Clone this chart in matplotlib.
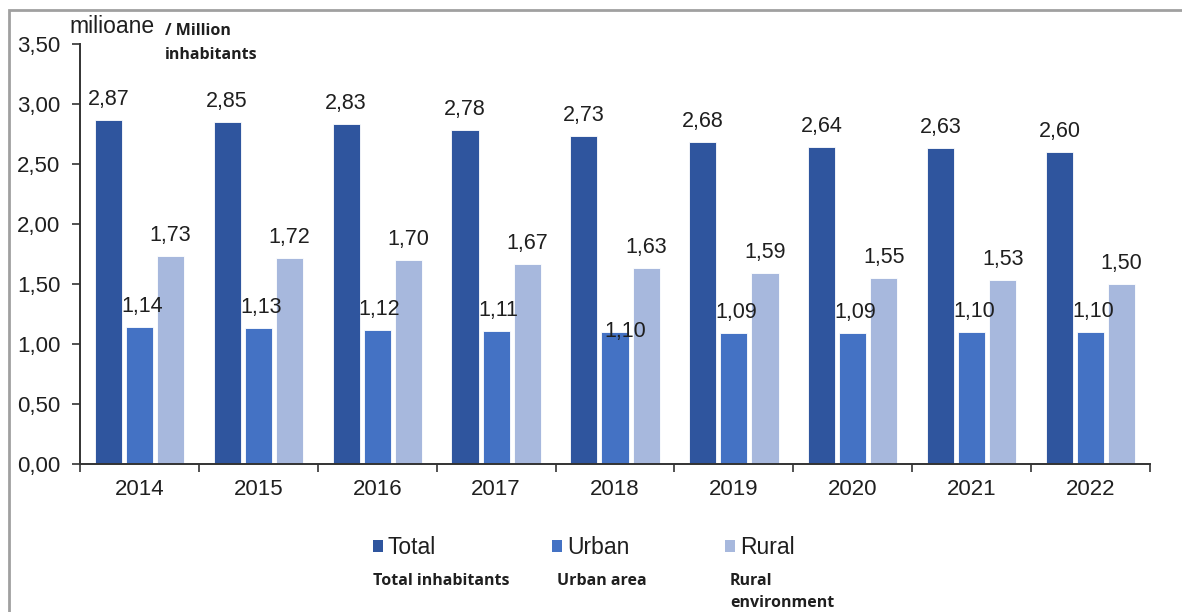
import matplotlib
matplotlib.use("Agg")
import matplotlib.pyplot as plt
from matplotlib.patches import Patch, Rectangle
import numpy as np

years = ["2014", "2015", "2016", "2017", "2018", "2019", "2020", "2021", "2022"]
total = [2.87, 2.85, 2.83, 2.78, 2.73, 2.68, 2.64, 2.63, 2.60]
urban = [1.14, 1.13, 1.12, 1.11, 1.10, 1.09, 1.09, 1.10, 1.10]
rural = [1.73, 1.72, 1.70, 1.67, 1.63, 1.59, 1.55, 1.53, 1.50]
series_names = ["Total", "Urban", "Rural"]
series_sub = ["Total inhabitants", "Urban area", "Rural\nenvironment"]
yticks = [0, 0.5, 1.0, 1.5, 2.0, 2.5, 3.0, 3.5]

colors = ["#2F559E", "#4472C4", "#A7B8DD"]
text_color = "#1F1F1F"

plt.rcParams['font.family'] = ['Liberation Sans', 'DejaVu Sans']

fig = plt.figure(figsize=(11.82, 6.12), dpi=100)
ax = fig.add_axes([80/1182, 1-464/612, (1150-80)/1182, (464-44)/612])

x = np.arange(len(years))
step = 0.262
width = 0.228
offsets = [-step, 0, step]
label_pad = 0.125
# per-label adjustments (dx, dy) for the urban series (2018 label sits lower in source)
urban_adj = [(0.02, 0)] * len(years)
urban_adj[4] = (0.09, -0.17)
adjs = [[(0, 0)] * len(years), urban_adj, [(0, 0)] * len(years)]
for vals, off, col, adj in zip([total, urban, rural], offsets, colors, adjs):
    ax.bar(x + off, vals, width=width, color=col, edgecolor="white", linewidth=0.6)
    for xi, v, (dx, dy) in zip(x, vals, adj):
        ax.text(xi + off + dx, v + label_pad + dy, f"{v:.2f}".replace(".", ","), ha="center",
                va="baseline", fontsize=15.5, color=text_color)

ax.set_xlim(-0.5, len(years) - 0.5)
ax.set_ylim(0, 3.5)
ax.set_yticks(yticks)
ax.set_yticklabels([f"{t:.2f}".replace(".", ",") for t in yticks], fontsize=16, color=text_color)
ax.set_xticks(x)
ax.set_xticklabels(years, fontsize=16, color=text_color)
ax.set_xticks(np.arange(-0.5, len(years)), minor=True)
ax.tick_params(axis="x", which="major", length=0, pad=11)
ax.tick_params(axis="x", which="minor", length=6, width=1.2, direction="out", color="#333333")
ax.tick_params(axis="y", length=6, width=1.2, direction="out", color="#333333", pad=8)
for s in ["top", "right"]:
    ax.spines[s].set_visible(False)
ax.spines["left"].set_color("#333333")
ax.spines["bottom"].set_color("#333333")
ax.spines["left"].set_linewidth(1.4)
ax.spines["bottom"].set_linewidth(1.4)

fig.text(69/1182, 1-33/612, "milioane", fontsize=16.5, va="baseline", ha="left", color=text_color)
fig.text(165/1182, 1-23/612, "/ Million\ninhabitants", fontsize=11.5, fontweight="bold",
         va="top", ha="left", family=["Open Sans", "DejaVu Sans"], linespacing=1.65,
         color=text_color)

leg_x = [373, 552, 725]
for lx, c, name in zip(leg_x, colors, series_names):
    leg = fig.legend([Patch(facecolor=c, edgecolor="none")], [name], loc="center left",
                     bbox_to_anchor=(lx/1182, 1-548/612), frameon=False, fontsize=16.5,
                     handlelength=0.45, handleheight=0.45, handletextpad=0.2,
                     borderpad=0, borderaxespad=0)
    for t in leg.get_texts():
        t.set_color(text_color)

sub_x = [373, 557, 730]
for sx, s in zip(sub_x, series_sub):
    fig.text(sx/1182, 1-573/612, s, fontsize=11.5, fontweight="bold", va="top", ha="left",
             family=["Open Sans", "DejaVu Sans"], linespacing=1.5, color=text_color)

fig.patches.append(Rectangle((9/1182, -0.1), 1.2, 1.1 - 10/612,
                             transform=fig.transFigure, fill=False,
                             edgecolor="#A0A0A0", linewidth=2))

fig.savefig("out.png", dpi=100)
